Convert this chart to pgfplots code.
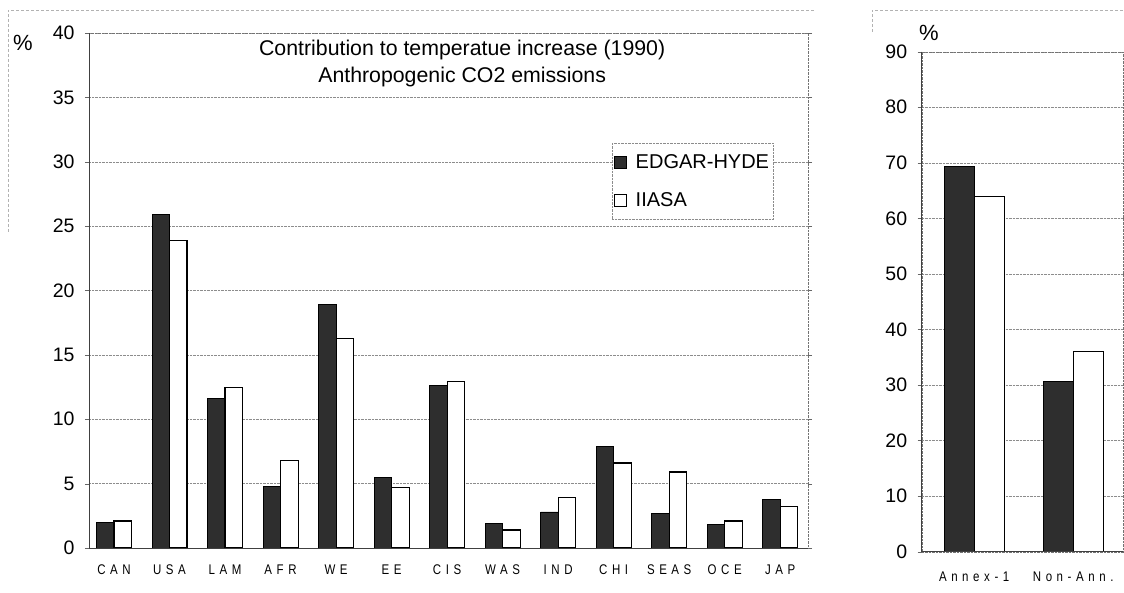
\documentclass[border=0pt]{standalone}
\usepackage{fontspec}
\setmainfont{Liberation Sans}
\usepackage{graphicx}
\usepackage{pgfplots}
\pgfplotsset{compat=1.18}
\newfontfamily\tickfont[LetterSpace=40]{Liberation Sans}
\newcommand{\tl}[1]{\scalebox{0.82}[1]{\tickfont #1}}
\definecolor{darkbar}{gray}{0.18}

\pgfplotstableread{
x  edgar iiasa
0  2.0   2.1
1  25.9  23.9
2  11.6  12.5
3  4.8   6.8
4  18.9  16.3
5  5.5   4.7
6  12.6  12.9
7  1.9   1.4
8  2.8   3.9
9  7.9   6.6
10 2.7   5.9
11 1.8   2.1
12 3.8   3.2
}\regiondata

\pgfplotstableread{
x edgar iiasa
0 69.3 63.9
1 30.7 36.1
}\annexdata

\pgfplotsset{
  commonstyle/.style={
    scale only axis,
    ybar=0pt,
    ymin=0,
    axis line style={densely dotted, black!55},
    ymajorgrids,
    grid style={densely dotted, black!45},
    xtick=data,
    xtick style={draw=none},
    ytick style={black!60},
    tick align=outside,
    major tick length=4pt,
    /pgf/number format/assume math mode=true,
    yticklabel style={font=\fontsize{19.5}{20}\selectfont, xshift=-7pt},
    xticklabel style={font=\fontsize{14}{14}\selectfont, yshift=-9pt},
    after end axis/.append code={
      \draw[black!75, line width=0.9pt] (rel axis cs:0,1) -- (rel axis cs:0,0) -- (rel axis cs:1,0);
    },
  },
  darkstyle/.style={fill=darkbar, draw=black, line width=0.8pt},
  whitestyle/.style={fill=white, draw=black, line width=1.1pt},
}

\begin{document}
\begin{tikzpicture}[x=1pt,y=1pt]
\useasboundingbox (0,0) rectangle (1124,592);
% faint outer frames of the scanned figure
\draw[black!30, densely dashed, line width=0.6pt] (8,360) -- (8,582) -- (815,582);
\draw[black!30, densely dashed, line width=0.6pt] (872,560) -- (872,582) -- (1124,582);

\begin{axis}[
  commonstyle,
  at={(89pt,44pt)}, anchor=south west,
  width=719pt, height=515pt,
  xmin=-0.45, xmax=12.5,
  ymax=40, ytick={0,5,...,40},
  bar width=17.5pt,
  xticklabels={\tl{CAN},\tl{USA},\tl{LAM},\tl{AFR},\tl{WE},\tl{EE},\tl{CIS},\tl{WAS},\tl{IND},\tl{CHI},\tl{SEAS},\tl{OCE},\tl{JAP}},
  legend style={at={(0.727,0.786)}, anchor=north west, draw=black!45, densely dotted,
    fill=white, font=\fontsize{20}{21}\selectfont, inner xsep=2pt, inner ysep=9pt, row sep=19pt,
    /tikz/every even column/.append style={column sep=2pt},
    /tikz/every odd column/.append style={column sep=7pt}},
  legend cell align=left,
  legend image code/.code={\draw[#1, solid, line width=0.8pt] (0pt,-6pt) rectangle (12pt,6pt);},
  after end axis/.append code={
    \node[anchor=base, font=\fontsize{21.3}{22}\selectfont] at (rel axis cs:0.519,0.957) {Contribution to temperatue increase (1990)};
    \node[anchor=base, font=\fontsize{21.3}{22}\selectfont] at (rel axis cs:0.519,0.903) {Anthropogenic CO2 emissions};
    \node[font=\fontsize{22}{22}\selectfont] at (rel axis cs:-0.092,0.981) {\%};
  },
]
\addplot[darkstyle] table[x=x, y=edgar] {\regiondata};
\addlegendentry{EDGAR-HYDE}
\addplot[whitestyle] table[x=x, y=iiasa] {\regiondata};
\addlegendentry{IIASA}
\end{axis}

\begin{axis}[
  commonstyle,
  at={(921.7pt,40.3pt)}, anchor=south west,
  width=201pt, height=500pt,
  xmin=-0.53, xmax=1.5,
  ymax=90, ytick={0,10,...,90},
  bar width=30pt,
  xticklabels={\tl{Annex-1},\tl{Non-Ann.}},
  xticklabel style={yshift=-4pt},
  after end axis/.append code={
    \node[font=\fontsize{22}{22}\selectfont] at (rel axis cs:0.036,1.037) {\%};
  },
]
\addplot[darkstyle] table[x=x, y=edgar] {\annexdata};
\addplot[whitestyle] table[x=x, y=iiasa] {\annexdata};
\end{axis}
\end{tikzpicture}
\end{document}
